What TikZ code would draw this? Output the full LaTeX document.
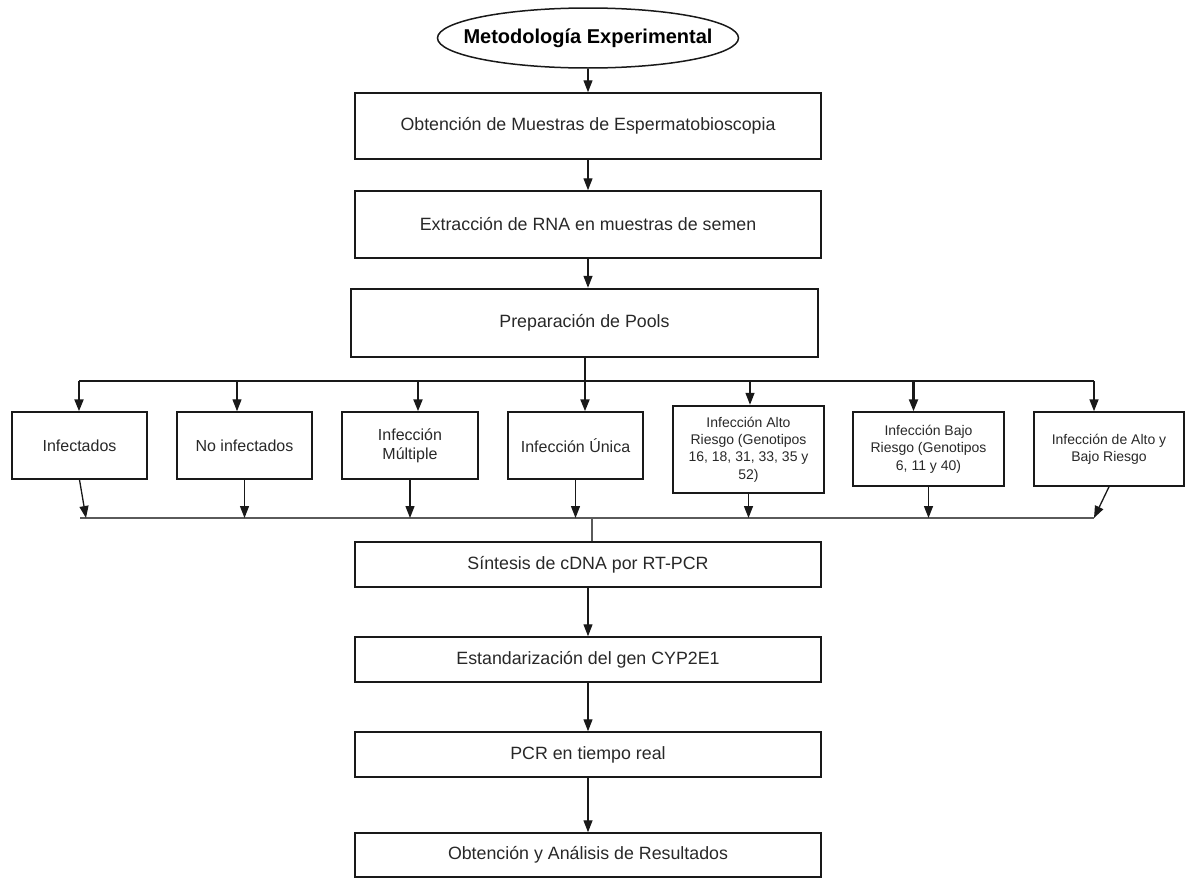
\documentclass[tikz,border=0pt]{standalone}
\usepackage{fontspec}
\setmainfont{Liberation Sans}
\usetikzlibrary{arrows.meta,shapes.geometric}
\definecolor{txt}{RGB}{40,40,40}
\definecolor{ln}{RGB}{25,25,25}
\definecolor{mg}{RGB}{90,90,90}
\begin{document}
\begin{tikzpicture}[x=1pt,y=-1pt,
 box/.style={draw=ln, line width=1.5pt, rectangle, inner sep=0pt, text=txt, align=center},
 thickbox/.style={box, line width=2.4pt},
 big/.style={font=\fontsize{17.8}{21}\selectfont},
 mid/.style={font=\fontsize{16}{19.3}\selectfont},
 small/.style={font=\fontsize{14}{17.3}\selectfont},
 arr/.style={-{Triangle[length=12pt,width=9pt]}, line width=1.3pt, draw=ln},
 tarr/.style={arr, line width=2.2pt},
]
\useasboundingbox (0,0) rectangle (1185,878);

% title
\node[draw=ln, line width=1.5pt, ellipse, minimum width=301pt, minimum height=60pt, inner sep=0pt] (title) at (588,38) {};
\node[font=\bfseries\fontsize{20}{24}\selectfont, text=black] (titletxt) at (title.center) {Metodología Experimental};

% main column
\node[box, big, minimum width=466pt, minimum height=66pt] (b1) at (588,126) {Obtención de Muestras de Espermatobioscopia};
\node[box, big, minimum width=466pt, minimum height=67pt] (b2) at (588,224.5) {Extracción de RNA en muestras de semen};
\node[thickbox, big, minimum width=467pt, minimum height=68pt] (b3) at (584.5,323) {Preparación de Pools};

\draw[arr] (title.south) -- (b1.north);
\draw[arr] (b1.south) -- (b2.north);
\draw[arr] (b2.south) -- (b2.south |- b3.north);

% groups
\node[box, mid, minimum width=135pt, minimum height=67pt] (s1) at (79.5,445.5) {Infectados};
\node[box, mid, minimum width=135pt, minimum height=67pt] (s2) at (244.5,445.5) {No infectados};
\node[box, mid, minimum width=136pt, minimum height=67pt] (s3) at (410,445.5) {Infección\\Múltiple};
\node[box, mid, minimum width=135pt, minimum height=67pt] (s4) at (575.5,445.5) {Infección Única};
\node[thickbox, small, minimum width=151pt, minimum height=87pt] (s5) at (748.5,449.5) {Infección Alto\\Riesgo (Genotipos\\16, 18, 31, 33, 35 y\\52)};
\node[box, small, minimum width=151pt, minimum height=74pt] (s6) at (928.5,449) {Infección Bajo\\Riesgo (Genotipos\\6, 11 y 40)};
\node[box, small, minimum width=150pt, minimum height=74pt] (s7) at (1109,449) {Infección de Alto y\\Bajo Riesgo};

% branch
\coordinate (t1) at (79,381);
\coordinate (t2) at (237,381);
\coordinate (t3) at (418,381);
\coordinate (t4) at (585,381);
\coordinate (t5) at (750,381);
\coordinate (t6) at (913.5,381);
\coordinate (t7) at (1094,381);
\draw[ln, line width=2.4pt] (b3.south -| t4) -- (t4);
\draw[ln, line width=2.4pt] (t1) -- (t7);
\draw[tarr] (t1) -- (s1.north -| t1);
\draw[arr] (t2) -- (s2.north -| t2);
\draw[tarr] (t3) -- (s3.north -| t3);
\draw[tarr] (t4) -- (s4.north -| t4);
\draw[arr] (t5) -- (s5.north -| t5);
\draw[tarr] (t6) -- (s6.north -| t6);
\draw[arr, line width=1.6pt] (t7) -- (s7.north -| t7);

% merge
\coordinate (mline) at (80,518);
\coordinate (m1) at (86,518);
\coordinate (m7) at (1094,518);
\coordinate (mc) at (592,518);
\draw[mg, line width=1.1pt] (mline) -- (m7);
\draw[arr] (s1.south) -- (m1);
\draw[arr] (s2.south) -- (s2.south |- mline);
\draw[arr] (s3.south) -- (s3.south |- mline);
\draw[arr] (s4.south) -- (s4.south |- mline);
\draw[arr] (s5.south) -- (s5.south |- mline);
\draw[arr] (s6.south) -- (s6.south |- mline);
\draw[arr] (s7.south) -- (m7);

% lower column
\node[box, big, minimum width=466pt, minimum height=45pt] (c1) at (588,564.5) {Síntesis de cDNA por RT-PCR};
\node[box, big, minimum width=466pt, minimum height=45pt] (c2) at (588,659.5) {Estandarización del gen CYP2E1};
\node[box, big, minimum width=466pt, minimum height=45pt] (c3) at (588,754.5) {PCR en tiempo real};
\node[box, big, minimum width=466pt, minimum height=44pt] (c4) at (588,855) {Obtención y Análisis de Resultados};

\draw[mg, line width=1.1pt] (mc) -- (mc |- c1.north);
\draw[arr] (c1.south) -- (c2.north);
\draw[arr] (c2.south) -- (c3.north);
\draw[arr] (c3.south) -- (c4.north);
\end{tikzpicture}
\end{document}
